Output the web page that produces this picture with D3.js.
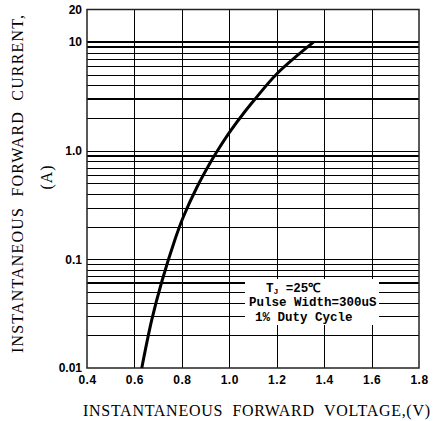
<!DOCTYPE html>
<html>
<head>
<meta charset="utf-8">
<script src="https://cdn.jsdelivr.net/npm/d3@7"></script>
<style>
  html, body { margin: 0; padding: 0; background: #fff; }
  svg { display: block; }
  text.pre { white-space: pre; }
</style>
</head>
<body>
<svg id="chart" width="438" height="421"></svg>
<script>
// ---- data ----
const voltage = [0.631, 0.673, 0.715, 0.771, 0.806, 0.863, 0.919, 0.954, 1.003, 1.066, 1.109, 1.200, 1.355];
const current = [0.010, 0.0277, 0.0619, 0.1525, 0.2457, 0.459, 0.772, 1.032, 1.50, 2.30, 3.00, 5.10, 10.0];
const xTicks = [0.4, 0.6, 0.8, 1.0, 1.2, 1.4, 1.6, 1.8];
const xTickLabels = ["0.4", "0.6", "0.8", "1.0", "1.2", "1.4", "1.6", "1.8"];
const yTicks = [0.01, 0.1, 1, 10, 20];
const yTickLabels = ["0.01", "0.1", "1.0", "10", "20"];
const heavyGrid = [10, 9, 3, 0.9, 0.06];
const legendLines = ["Pulse Width=300uS", "1% Duty Cycle"];

const svg = d3.select("#chart");
const L = 87, R = 419, T = 9.5, B = 368;
const x = d3.scaleLinear().domain([0.4, 1.8]).range([L, R]);
const y = d3.scaleLog().domain([0.01, 20]).range([B, T]);

// horizontal minor grid
const hGrid = [];
[0.01, 0.1, 1].forEach(d => { for (let k = 2; k <= 10; k++) hGrid.push(+(d * k).toPrecision(3)); });
const hasHeavy = v => heavyGrid.some(h => Math.abs(h - v) < 1e-9);

const grid = svg.append("g");
grid.selectAll("line.h").data(hGrid).join("line")
  .attr("x1", L).attr("x2", R)
  .attr("y1", d => Math.round(y(d)) + (hasHeavy(d) ? 0 : 0.5))
  .attr("y2", d => Math.round(y(d)) + (hasHeavy(d) ? 0 : 0.5))
  .attr("stroke", "#000")
  .attr("stroke-width", d => hasHeavy(d) ? 2 : 1);

grid.selectAll("line.v").data(xTicks.slice(1, -1)).join("line")
  .attr("x1", d => Math.round(x(d)) + 0.5).attr("x2", d => Math.round(x(d)) + 0.5)
  .attr("y1", T).attr("y2", B)
  .attr("stroke", "#000").attr("stroke-width", 1);

// legend box (white, no border)
svg.append("rect").attr("x", 245).attr("y", 279).attr("width", 134).attr("height", 46).attr("fill", "#fff");

// frame
svg.append("rect").attr("x", L).attr("y", T).attr("width", R - L).attr("height", B - T)
  .attr("fill", "none").attr("stroke", "#222").attr("stroke-width", 1.5);

// curve
const pts = voltage.map((v, i) => [v, current[i]]);
svg.append("path").datum(pts)
  .attr("d", d3.line().x(d => x(d[0])).y(d => y(d[1])).curve(d3.curveCatmullRom.alpha(0.5)))
  .attr("fill", "none").attr("stroke", "#000").attr("stroke-width", 3)
  .attr("stroke-linecap", "butt");

// axes labels (using scales)
const tickFont = "'Liberation Sans', Arial, sans-serif";
const yAxis = d3.axisLeft(y).tickValues(yTicks).tickSize(0).tickPadding(5)
  .tickFormat((d, i) => yTickLabels[i]);
const ya = svg.append("g").attr("transform", `translate(${L},0)`).call(yAxis);
ya.select(".domain").remove();
ya.selectAll("text").attr("font-family", tickFont).attr("font-weight", "bold")
  .attr("font-size", 12).attr("fill", "#000").attr("dy", "0.3em");

const xAxis = d3.axisBottom(x).tickValues(xTicks).tickSize(0).tickPadding(7)
  .tickFormat((d, i) => xTickLabels[i]);
const xa = svg.append("g").attr("transform", `translate(0,${B})`).call(xAxis);
xa.select(".domain").remove();
xa.selectAll("text").attr("font-family", tickFont).attr("font-weight", "bold")
  .attr("font-size", 12).attr("fill", "#000").attr("letter-spacing", 0.5);

// axis titles
const serif = "'Liberation Serif', 'Times New Roman', serif";
svg.append("text").attr("class", "pre").attr("x", 83).attr("y", 416)
  .attr("font-family", serif).attr("font-size", 16).attr("fill", "#000")
  .attr("textLength", 347).attr("lengthAdjust", "spacing")
  .text("INSTANTANEOUS  FORWARD  VOLTAGE,(V)");

svg.append("text").attr("class", "pre").attr("transform", "translate(23,353) rotate(-90)")
  .attr("font-family", serif).attr("font-size", 16).attr("fill", "#000")
  .attr("textLength", 338).attr("lengthAdjust", "spacing")
  .text("INSTANTANEOUS  FORWARD  CURRENT,");

svg.append("text").attr("transform", "translate(52,177) rotate(-90)")
  .attr("text-anchor", "middle")
  .attr("font-family", serif).attr("font-size", 16).attr("fill", "#000")
  .attr("letter-spacing", 1)
  .text("(A)");

// legend text
const mono = "'Liberation Mono', 'Courier New', monospace";
const lt = svg.append("g").attr("font-family", mono).attr("font-weight", "bold")
  .attr("font-size", 12.5).attr("fill", "#000");
const t1 = lt.append("text").attr("x", 266).attr("y", 292);
t1.append("tspan").text("T");
t1.append("tspan").attr("font-size", 8).attr("dy", 2).text("J");
t1.append("tspan").attr("dy", -2).text(" =25\u2103");
lt.selectAll("text.l").data(legendLines).join("text").attr("class", "l")
  .attr("x", (d, i) => i === 0 ? 249 : 255)
  .attr("y", (d, i) => 306 + i * 15)
  .text(d => d);
</script>
</body>
</html>
